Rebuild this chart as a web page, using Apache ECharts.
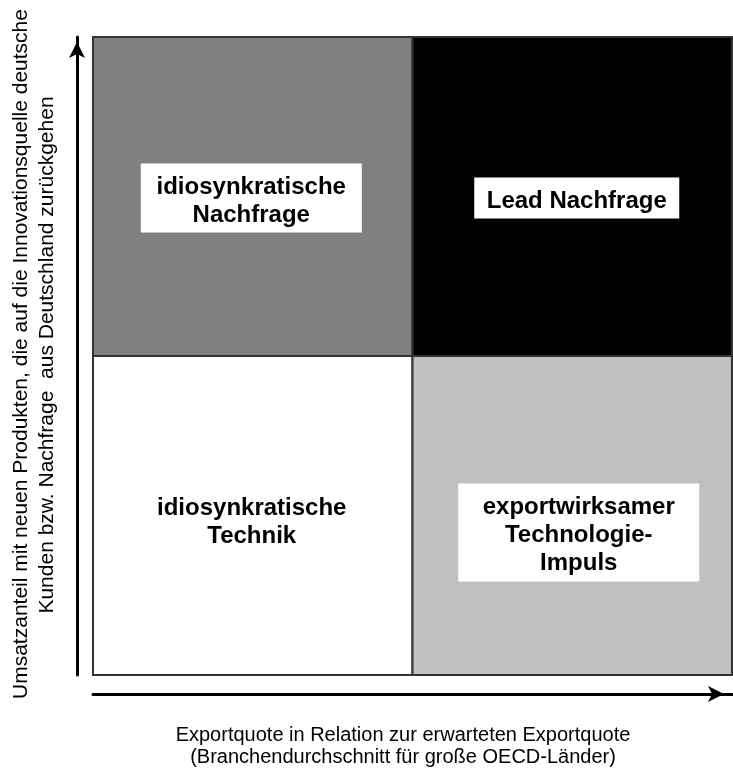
<!DOCTYPE html>
<html>
<head>
<meta charset="utf-8">
<script src="https://cdn.jsdelivr.net/npm/echarts@6/dist/echarts.min.js"></script>
<style>
  html, body { margin: 0; padding: 0; background: #fff; }
  #main { width: 733px; height: 769px; }
</style>
</head>
<body>
<div id="main"></div>
<script>
// quadrant cells (x = export column, y = share row)
var quadX = [0, 1, 0, 1];
var quadY = [1, 1, 0, 0];
var quadLabels = [
  'idiosynkratische\nNachfrage',
  'Lead Nachfrage',
  'idiosynkratische\nTechnik',
  'exportwirksamer\nTechnologie-\nImpuls'
];
var quadColors = ['#808080', '#000000', '#ffffff', '#c0c0c0'];

// label box layout: [dx, dy, width, height] relative to cell centre
var boxLayout = [
  [-1.5, 1.5, 221, 69],
  [4.5, 1.5, 205, 41],
  [-1, 4, 0, 0],
  [6.5, 17, 241, 98]
];

var xTitle = 'Exportquote in Relation zur erwarteten Exportquote\n(Branchendurchschnitt für große OECD-Länder)';
var yTitle1 = 'Umsatzanteil mit neuen Produkten, die auf die Innovationsquelle deutsche';
var yTitle2 = 'Kunden bzw. Nachfrage  aus Deutschland zurückgehen';

var font = '"Liberation Sans", Arial, sans-serif';

var chart = echarts.init(document.getElementById('main'));

var data = quadX.map(function (x, i) {
  return [x, quadY[i], i];
});

chart.setOption({
  animation: false,
  grid: { left: 93, top: 37, right: 1, bottom: 94 },
  xAxis: {
    type: 'value', min: 0, max: 2,
    offset: 19,
    axisLine: {
      show: true,
      onZero: false,
      symbol: ['none', 'arrow'],
      symbolSize: [12, 16],
      symbolOffset: [0, -8],
      lineStyle: { color: '#000', width: 3 }
    },
    axisTick: { show: false },
    axisLabel: { show: false },
    splitLine: { show: false }
  },
  yAxis: {
    type: 'value', min: 0, max: 2,
    offset: 16,
    axisLine: {
      show: true,
      onZero: false,
      symbol: ['none', 'arrow'],
      symbolSize: [12, 16],
      symbolOffset: [0, -5],
      lineStyle: { color: '#000', width: 3 }
    },
    axisTick: { show: false },
    axisLabel: { show: false },
    splitLine: { show: false }
  },
  series: [{
    type: 'custom',
    data: data,
    renderItem: function (params, api) {
      var i = api.value(2);
      var p0 = api.coord([api.value(0), api.value(1) + 1]);
      var p1 = api.coord([api.value(0) + 1, api.value(1)]);
      var cx = (p0[0] + p1[0]) / 2 + boxLayout[i][0];
      var cy = (p0[1] + p1[1]) / 2 + boxLayout[i][1];
      var bw = boxLayout[i][2], bh = boxLayout[i][3];
      return {
        type: 'group',
        children: [{
          type: 'rect',
          shape: { x: p0[0], y: p0[1], width: p1[0] - p0[0], height: p1[1] - p0[1] },
          style: { fill: quadColors[i], stroke: '#333', lineWidth: 2 }
        }, {
          type: 'rect',
          shape: { x: cx - bw / 2, y: cy - bh / 2, width: bw, height: bh },
          style: { fill: '#fff' },
          invisible: bw === 0
        }, {
          type: 'text',
          style: {
            text: quadLabels[i],
            x: cx, y: cy + 3,
            align: 'center', verticalAlign: 'middle',
            fontFamily: font, fontWeight: 'bold', fontSize: 24,
            lineHeight: 28, fill: '#000'
          }
        }]
      };
    }
  }],
  graphic: [{
    type: 'text',
    x: 403, y: 746,
    style: {
      text: xTitle, align: 'center', verticalAlign: 'middle',
      fontFamily: font, fontSize: 20, lineHeight: 22, fill: '#000'
    }
  }, {
    type: 'text',
    x: 21, y: 354, rotation: Math.PI / 2,
    style: {
      text: yTitle1, align: 'center', verticalAlign: 'middle',
      fontFamily: font, fontSize: 21, fill: '#000'
    }
  }, {
    type: 'text',
    x: 47, y: 355, rotation: Math.PI / 2,
    style: {
      text: yTitle2, align: 'center', verticalAlign: 'middle',
      fontFamily: font, fontSize: 21, fill: '#000'
    }
  }]
});
</script>
</body>
</html>
